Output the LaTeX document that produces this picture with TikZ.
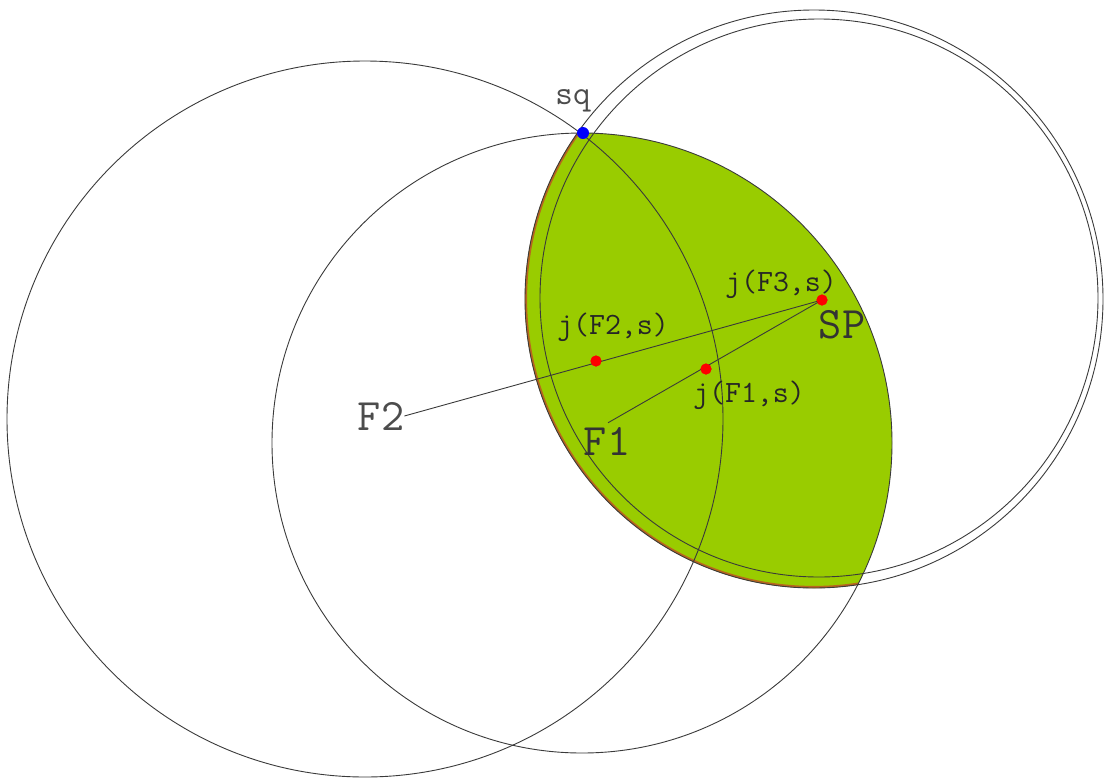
\documentclass[tikz,border=0pt]{standalone}
\usepackage{fontspec}
\definecolor{lensgreen}{HTML}{99CC00}
\definecolor{lensbrown}{HTML}{B8661E}
\definecolor{ringgray}{HTML}{3A3A3A}
\usetikzlibrary{positioning, calc}
\tikzset{
	ringline/.style={draw=ringgray, line width=0.9pt}
}
\tikzset{
	reddot/.style={circle, fill=red, inner sep=0pt, minimum size=11pt}
}
\tikzset{
	bluedot/.style={circle, fill=blue, inner sep=0pt, minimum size=12pt}
}
\tikzset{
	smalllabel/.style={inner sep=0pt, font=\fontsize{31}{33}\selectfont\ttfamily, text=black!85}
}
\tikzset{
	biglabel/.style={inner sep=0pt, font=\fontsize{45}{48}\selectfont\ttfamily, text=black!80}
}
\begin{document}
\begin{tikzpicture}[x=1pt, y=-1pt]

			\useasboundingbox (0,0) rectangle (1106,780);

			\coordinate (cLeft) at (365,419);
			\coordinate (cMid) at (582,443);
			\coordinate (cOuter) at (814,299);
			\coordinate (cInner) at (819,298);

			% the lens
			\begin{scope}
				\clip (cMid) circle[radius=310pt];
				\fill[lensgreen] (cOuter) circle[radius=289pt];
				\draw[lensbrown, line width=2.2pt] (cOuter) circle[radius=288pt];
			\end{scope}

			\begin{scope}
				\draw[ringline] (cLeft) circle[radius=358pt];
				\draw[ringline] (cMid) circle[radius=310pt];
				\draw[ringline] (cOuter) circle[radius=289pt];
				\draw[ringline] (cInner) circle[radius=279pt];
			\end{scope}

			\begin{scope}
				\node[bluedot] (sq) at (583,133) {};
				\node[reddot] (SP) at (822,300) {};
				\node[reddot] (jF2) at (596,361) {};
				\node[reddot] (jF1) at (706,369) {};

				\node[smalllabel, text=black!70, font=\fontsize{34}{36}\selectfont\ttfamily] (lsq) at (573,101) {sq};
				\node[smalllabel] (lF3) at (781,284) {j(F3,s)};
				\node[smalllabel] (lF2) at (613,327) {j(F2,s)};
				\node[smalllabel] (lF1) at (749,395) {j(F1,s)};
				\node[biglabel] (lSP) at (842,325) {SP};
				\node[biglabel, text=black!70] (F2) at (381,416) {F2};
				\node[biglabel] (F1) at (607,441) {F1};
			\end{scope}

			\draw[ringline] (F2.east) -- (SP.center);
			\draw[ringline] ($(F1.north)+(1,-4)$) -- (SP.center);

			\node[reddot] at (jF2) {};
			\node[reddot] at (jF1) {};
			\node[reddot] at (SP) {};

		\end{tikzpicture}
\end{document}
